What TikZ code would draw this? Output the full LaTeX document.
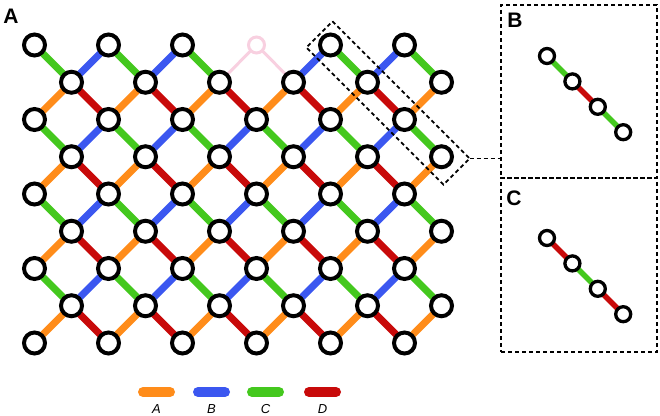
\documentclass[tikz,border=0pt]{standalone}
\usepackage{fontspec}
\setmainfont{Liberation Sans}
\usetikzlibrary{backgrounds}
\definecolor{cA}{HTML}{FF8C1A}
\definecolor{cB}{HTML}{3B57F0}
\definecolor{cC}{HTML}{44C81E}
\definecolor{cD}{HTML}{C80A0A}
\definecolor{pinkc}{HTML}{F8D0E0}
\begin{document}
\begin{tikzpicture}[x=1pt,y=-1pt,
  vtx/.style={circle,draw=black,line width=4pt,fill=white,inner sep=0pt,minimum size=21pt},
  svtx/.style={circle,draw=black,line width=3.3pt,fill=white,inner sep=0pt,minimum size=15pt},
  ghost/.style={circle,draw=pinkc,line width=3pt,fill=white,inner sep=0pt,minimum size=16pt},
  bond/.style={line width=7pt},
  sbond/.style={line width=5.5pt},
  ghostbond/.style={pinkc,line width=3pt},
  dashbox/.style={draw=black,dash pattern=on 4pt off 3pt,line width=1.8pt},
  panel/.style={font=\bfseries\fontsize{21}{21}\selectfont,inner sep=0pt},
  leg/.style={font=\itshape\fontsize{13}{13}\selectfont,inner sep=0pt},
  legbar/.style={line width=10pt,line cap=round}
]
\useasboundingbox (0,0) rectangle (660,415);

% lattice nodes
\foreach \r in {1,3,5,7} \foreach \c in {1,3,...,11}
  \node[vtx] (n-\r-\c) at ({34.5+37*\c},{45+37.25*\r}) {};
\foreach \r in {2,4,6,8} \foreach \c in {0,2,...,10}
  \node[vtx] (n-\r-\c) at ({34.5+37*\c},{45+37.25*\r}) {};
\foreach \c in {0,2,4,8,10}
  \node[vtx] (n-0-\c) at ({34.5+37*\c},45) {};
\node[ghost] (n-0-6) at ({34.5+37*6},45) {};

% inset nodes
\foreach \i in {0,...,3} {
  \node[svtx] (b\i) at ({547+25.4*\i},{56+25.4*\i}) {};
  \node[svtx] (c\i) at ({547+25.4*\i},{238+25.4*\i}) {};
}

\begin{pgfonlayer}{background}
% even row -> odd row below
\foreach \r in {2,4,6} {
  \pgfmathtruncatemacro\s{\r+1}
  \foreach \c in {1,3,...,11} {
    \pgfmathtruncatemacro\a{\c-1}
    \draw[bond,cC] (n-\r-\a.center) -- (n-\s-\c.center);
  }
  \foreach \c in {1,3,...,9} {
    \pgfmathtruncatemacro\b{\c+1}
    \draw[bond,cB] (n-\r-\b.center) -- (n-\s-\c.center);
  }
}
\foreach \c in {1,3,5,9,11} {
  \pgfmathtruncatemacro\a{\c-1}
  \draw[bond,cC] (n-0-\a.center) -- (n-1-\c.center);
}
\foreach \c in {1,3,7,9} {
  \pgfmathtruncatemacro\b{\c+1}
  \draw[bond,cB] (n-0-\b.center) -- (n-1-\c.center);
}
\draw[ghostbond] (n-0-6.center) -- (n-1-5.center);
\draw[ghostbond] (n-0-6.center) -- (n-1-7.center);
% odd row -> even row below
\foreach \r in {1,3,5,7} {
  \pgfmathtruncatemacro\s{\r+1}
  \foreach \c in {1,3,...,11} {
    \pgfmathtruncatemacro\a{\c-1}
    \draw[bond,cA] (n-\r-\c.center) -- (n-\s-\a.center);
  }
  \foreach \c in {1,3,...,9} {
    \pgfmathtruncatemacro\b{\c+1}
    \draw[bond,cD] (n-\r-\c.center) -- (n-\s-\b.center);
  }
}
% inset bonds
\draw[sbond,cC] (b0.center) -- (b1.center);
\draw[sbond,cD] (b1.center) -- (b2.center);
\draw[sbond,cC] (b2.center) -- (b3.center);
\draw[sbond,cD] (c0.center) -- (c1.center);
\draw[sbond,cC] (c1.center) -- (c2.center);
\draw[sbond,cD] (c2.center) -- (c3.center);
\end{pgfonlayer}

% highlight box around the diagonal
\coordinate (hT) at (332.5,21.3);
\coordinate (hR) at (469.7,158.5);
\coordinate (hB) at (443.5,184.7);
\coordinate (hL) at (306.3,47.5);
\draw[dashbox] (hT) -- (hR) -- (hB) -- (hL) -- cycle;

% inset panels
\node[dashbox,rectangle,minimum width=156pt,minimum height=173pt,inner sep=0pt] (boxB) at (579,91.5) {};
\node[dashbox,rectangle,minimum width=156pt,minimum height=174pt,inner sep=0pt] (boxC) at (579,265) {};
\draw[dashbox] (hR) -- (hR -| boxB.west);

% panel labels
\node[panel] (labA) at (11,16) {A};
\node[panel] (labB) at (515,20) {B};
\node[panel] (labC) at (514,198) {C};

% legend
\draw[legbar,cA] (143,392) -- (170,392);
\draw[legbar,cB] (198,392) -- (225,392);
\draw[legbar,cC] (252,392) -- (279,392);
\draw[legbar,cD] (309,392) -- (336,392);
\node[leg] (legA) at (156.5,409) {A};
\node[leg] (legB) at (211.5,409) {B};
\node[leg] (legC) at (265.5,409) {C};
\node[leg] (legD) at (322.5,409) {D};
\end{tikzpicture}
\end{document}
